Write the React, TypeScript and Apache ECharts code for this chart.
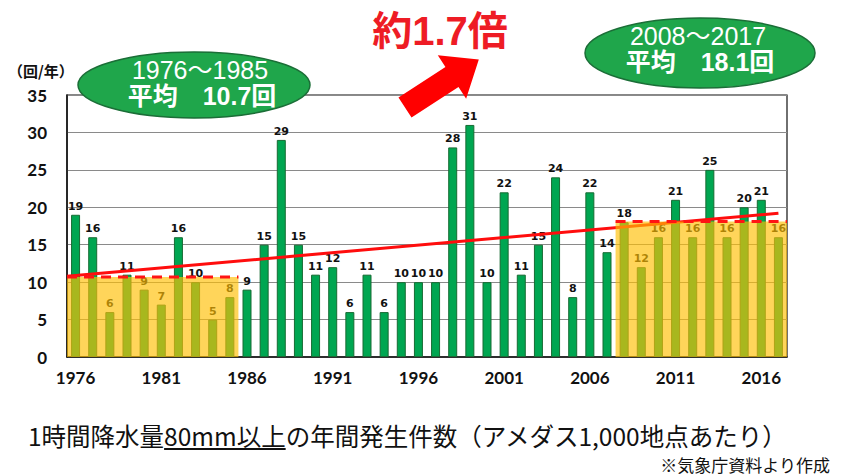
import React, { useEffect, useRef } from 'react';
import * as echarts from 'echarts';

const years = [
  '1976', '1977', '1978', '1979', '1980', '1981', '1982', '1983', '1984', '1985',
  '1986', '1987', '1988', '1989', '1990', '1991', '1992', '1993', '1994', '1995',
  '1996', '1997', '1998', '1999', '2000', '2001', '2002', '2003', '2004', '2005',
  '2006', '2007', '2008', '2009', '2010', '2011', '2012', '2013', '2014', '2015',
  '2016', '2017',
];
const counts = [
  19, 16, 6, 11, 9, 7, 16, 10, 5, 8,
  9, 15, 29, 15, 11, 12, 6, 11, 6, 10,
  10, 10, 28, 31, 10, 22, 11, 15, 24, 8,
  22, 14, 18, 12, 16, 21, 16, 25, 16, 20,
  21, 16,
];
const periodFrom = ['1976', '2008'];
const periodTo = ['1985', '2017'];
const periodAvg = [10.7, 18.1];
const trendYears = ['1976', '2017'];
const trendValues = [10.9, 19.2];
const yMin = 0;
const yMax = 35;
const yStep = 5;
const ratioLabel = '約1.7倍';
const unitLabel = '（回/年）';
const captionPre = '1時間降水量';
const captionUnder = '80mm以上';
const captionPost = 'の年間発生件数（アメダス1,000地点あたり）';
const sourceLabel = '※気象庁資料より作成';

const CJK = '"Noto Sans CJK JP", sans-serif';

function measure(text: string, font: string): number {
  const c = document.createElement('canvas').getContext('2d');
  if (!c) return text.length * 20;
  c.font = font;
  return c.measureText(text).width;
}

function arrowPoints(): number[][] {
  const tail = [405, 107.5];
  const ang = (-33 * Math.PI) / 180;
  const d = [Math.cos(ang), Math.sin(ang)];
  const n = [-d[1], d[0]];
  const L = 88, headL = 32, sw = 12, hw = 26;
  const p = (base: number[], a: number, b: number) => [base[0] + d[0] * a + n[0] * b, base[1] + d[1] * a + n[1] * b];
  return [
    p(tail, 0, -sw), p(tail, L - headL, -sw), p(tail, L - headL, -hw), p(tail, L, 0),
    p(tail, L - headL, hw), p(tail, L - headL, sw), p(tail, 0, sw),
  ];
}

export default function App() {
  const ref = useRef<HTMLDivElement>(null);
  useEffect(() => {
    if (!ref.current) return;
    const chart = echarts.init(ref.current, null, { renderer: 'svg' });

    const captionFont = `24.5px ${CJK}`;
    const capX = 28;
    const wPre = measure(captionPre, captionFont);
    const wUnder = measure(captionUnder, captionFont);

    const ellipses = [
      { cx: 194, cy: 85, rx: 116, ry: 33, t1y: 70, t2y: 96, tx: 200 },
      { cx: 700, cy: 53, rx: 115, ry: 35, t1y: 36, t2y: 62, tx: 698 },
    ];
    const ellipseEls: any[] = [];
    ellipses.forEach((e, i) => {
      ellipseEls.push({
        type: 'ellipse', z: 100,
        shape: { cx: e.cx, cy: e.cy, rx: e.rx, ry: e.ry },
        style: { fill: '#1fa64b', stroke: '#1b6e37', lineWidth: 1.5 },
      });
      ellipseEls.push({
        type: 'text', z: 101, x: e.tx, y: e.t1y,
        style: {
          text: `${periodFrom[i]}～${periodTo[i]}`, fill: '#fff',
          font: `25px "Liberation Sans", ${CJK}`, lineHeight: 24, align: 'center', verticalAlign: 'middle',
        },
      });
      ellipseEls.push({
        type: 'text', z: 101, x: e.tx + 2, y: e.t2y,
        style: {
          text: `平均　${periodAvg[i]}回`, fill: '#fff',
          font: `bold 25px "Liberation Sans", ${CJK}`, lineHeight: 24, align: 'center', verticalAlign: 'middle',
        },
      });
    });

    const option: any = {
      animation: false,
      grid: { left: 67, right: 65, top: 95, bottom: 119, show: true, borderColor: '#111', borderWidth: 1.2 },
      xAxis: {
        type: 'category', data: years, boundaryGap: true,
        axisTick: { show: false },
        axisLine: { lineStyle: { color: '#111', width: 1.5 } },
        axisLabel: {
          interval: 4, color: '#111', fontFamily: 'Lato', fontWeight: 'bold', fontSize: 17, margin: 12,
        },
      },
      yAxis: {
        type: 'value', min: yMin, max: yMax, interval: yStep,
        axisLine: { show: true, lineStyle: { color: '#111', width: 1.5 } },
        axisTick: { show: false },
        axisLabel: { color: '#111', fontFamily: 'Lato', fontWeight: 'bold', fontSize: 17, margin: 20 },
        splitLine: { lineStyle: { color: '#8a8a8a', width: 1.2 } },
      },
      series: [
        {
          type: 'bar', data: counts, barWidth: 9, z: 2,
          itemStyle: { color: '#00a651', borderColor: '#176b33', borderWidth: 1 },
          label: {
            show: true, position: 'top', distance: 3, color: '#111',
            fontFamily: 'DejaVu Sans', fontWeight: 'bold', fontSize: 11,
          },
        },
        {
          type: 'custom', z: 3, silent: true,
          data: [[years.indexOf(trendYears[0]), trendValues[0], years.indexOf(trendYears[1]), trendValues[1]]],
          encode: { x: [0, 2], y: [1, 3] },
          renderItem: (params: any, api: any) => {
            const band = api.size([1, 0])[0];
            const p0 = api.coord([api.value(0), api.value(1)]);
            const p1 = api.coord([api.value(2), api.value(3)]);
            const slope = (p1[1] - p0[1]) / (p1[0] - p0[0]);
            const x0 = p0[0] - band / 2;
            const y0 = p0[1] - slope * (band / 2);
            return {
              type: 'line',
              shape: { x1: x0, y1: y0, x2: p1[0], y2: p1[1] },
              style: { stroke: '#ff0d0d', lineWidth: 3 },
            };
          },
        },
        {
          type: 'custom', z: 4, silent: true,
          data: periodFrom.map((f, i) => [years.indexOf(f), years.indexOf(periodTo[i]), periodAvg[i]]),
          encode: { x: [0, 1], y: 2 },
          renderItem: (params: any, api: any) => {
            const band = api.size([1, 0])[0];
            const pS = api.coord([api.value(0), 0]);
            const pE = api.coord([api.value(1), api.value(2)]);
            const x0 = pS[0] - band / 2;
            const x1 = pE[0] + band / 2;
            return {
              type: 'group',
              children: [
                {
                  type: 'rect',
                  shape: { x: x0, y: pE[1], width: x1 - x0, height: pS[1] - pE[1] },
                  style: { fill: 'rgba(255,191,5,0.66)' },
                },
                {
                  type: 'line',
                  shape: { x1: x0, y1: pE[1], x2: x1, y2: pE[1] },
                  style: { stroke: '#ff1414', lineWidth: 3, lineDash: [10, 7] },
                },
              ],
            };
          },
        },
      ],
      graphic: [
        {
          type: 'text', z: 100, left: 8, top: 63,
          style: { text: unitLabel, fill: '#111', font: `bold 15px ${CJK}` },
        },
        ...ellipseEls,
        {
          type: 'text', z: 100, x: 440, y: 31,
          style: {
            text: ratioLabel, fill: '#ee1c25', font: `bold 40px "Liberation Sans", ${CJK}`,
            align: 'center', verticalAlign: 'middle',
          },
        },
        {
          type: 'polygon', z: 100,
          shape: { points: arrowPoints() },
          style: { fill: '#ff0000' },
        },
        {
          type: 'text', z: 100, x: capX, y: 435,
          style: {
            text: captionPre + captionUnder + captionPost, fill: '#111', font: captionFont,
            lineHeight: 25, align: 'left', verticalAlign: 'middle',
          },
        },
        {
          type: 'line', z: 100,
          shape: { x1: capX + wPre, y1: 449, x2: capX + wPre + wUnder, y2: 449 },
          style: { stroke: '#111', lineWidth: 2 },
        },
        {
          type: 'text', z: 100, x: 830, y: 464,
          style: {
            text: sourceLabel, fill: '#111', font: `17px ${CJK}`, lineHeight: 17,
            align: 'right', verticalAlign: 'middle',
          },
        },
      ],
    };
    chart.setOption(option);
    return () => chart.dispose();
  }, []);
  return (
    <div
      ref={ref}
      style={{ position: 'absolute', left: 0, top: 0, width: 852, height: 476, background: '#fff' }}
    />
  );
}
